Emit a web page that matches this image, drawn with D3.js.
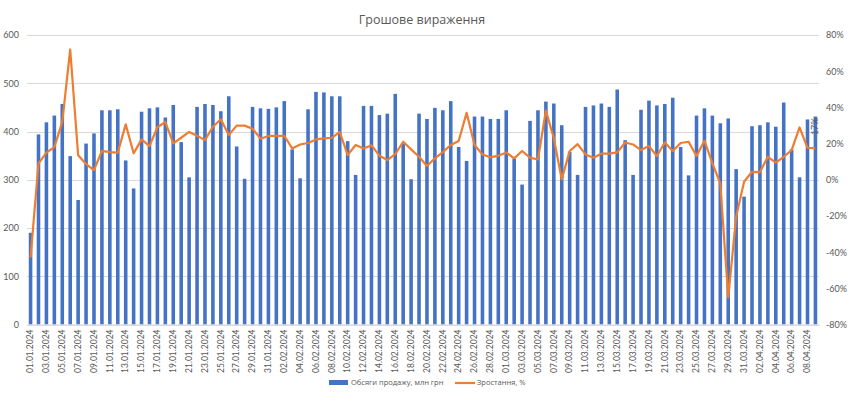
<!DOCTYPE html>
<meta charset="utf-8">
<style>
body { margin: 0; background: #fff; }
text { font-family: Lato, "Open Sans", sans-serif; fill: #595959; }
.cyr { font-family: "Open Sans", sans-serif; }
.grid line { stroke: #d9d9d9; }
</style>
<body>
<script src="https://cdn.jsdelivr.net/npm/d3@7"></script>
<script>

var width = 850,
    height = 397;

// dates 01.01.2024 .. 09.04.2024
var start = new Date(2024, 0, 1);
var dates = d3.range(100).map(function(i) { return d3.timeDay.offset(start, i); });
var fmt = d3.timeFormat("%d.%m.%Y");
var labels = dates.map(fmt);

var sales = [
  190, 394, 419, 433, 457, 349, 258, 375, 396, 444,
  444, 446, 340, 282, 441, 448, 450, 429, 455, 378,
  305, 451, 457, 455, 442, 473, 369, 302, 451, 448,
  447, 450, 463, 363, 303, 446, 482, 481, 473, 473,
  380, 310, 453, 453, 434, 437, 478, 375, 301, 437,
  426, 449, 444, 463, 368, 339, 431, 431, 426, 426,
  444, 344, 290, 422, 444, 462, 458, 413, 358, 310,
  451, 454, 458, 451, 487, 382, 310, 445, 464, 454,
  457, 470, 368, 309, 433, 448, 433, 417, 427, 322,
  265, 411, 413, 419, 410, 460, 363, 305, 425, 431
];

var growth = [
  -43, 9, 15, 18, 32, 72, 13.6, 8.7, 5.3, 16,
  15.3, 15, 30.6, 14.6, 22.3, 18.6, 29, 31.9, 20.1, 23.2,
  26.4, 24.3, 21.9, 29.3, 33.4, 24.7, 29.9, 29.9, 28.2, 22.7,
  24.2, 24.3, 24.3, 17.3, 19.5, 20.3, 22.3, 22.9, 23.2, 26.4,
  13.6, 19.2, 17.3, 19, 13.3, 10.9, 14.2, 21, 16.8, 12.7,
  7.6, 11.8, 15.3, 19.2, 21.4, 37, 19.2, 14, 12.4, 13.3,
  15.1, 11.8, 15.9, 12.2, 11.2, 38.2, 22.9, 0.2, 15.9, 19.7,
  14, 12.2, 14.4, 14.4, 15.1, 20.6, 19.5, 16.4, 18.6, 13.1,
  20.6, 15.9, 20.3, 21, 13.1, 21.6, 9, -2, -65, -20.5,
  -1.1, 4.4, 4.2, 12.7, 9.4, 12.7, 16.4, 28.9, 17.6, 17.4
];

var leftTicks = [0, 100, 200, 300, 400, 500, 600];
var rightTicks = [-80, -60, -40, -20, 0, 20, 40, 60, 80];

var margin = {top: 35, right: 31, bottom: 72.5, left: 27};

var x = d3.scaleBand()
    .domain(labels)
    .range([margin.left, width - margin.right])
    .paddingInner(0.55)
    .paddingOuter(0.225);

var y = d3.scaleLinear().domain([0, 600]).range([height - margin.bottom, margin.top]);
var y2 = d3.scaleLinear().domain([-80, 80]).range([height - margin.bottom, margin.top]);

var svg = d3.select("body").append("svg")
    .attr("width", width)
    .attr("height", height);

svg.append("text")
    .attr("class", "cyr")
    .attr("x", 422)
    .attr("y", 24)
    .attr("text-anchor", "middle")
    .style("font-size", "12.5px")
    .text("Грошове вираження");

// grid
svg.append("g")
    .attr("class", "grid")
  .selectAll("line")
    .data(leftTicks)
  .enter().append("line")
    .attr("x1", margin.left)
    .attr("x2", width - margin.right)
    .attr("y1", function(d) { return Math.round(y(d)) + 0.5; })
    .attr("y2", function(d) { return Math.round(y(d)) + 0.5; });

// left axis
var yAxis = svg.append("g")
    .attr("transform", "translate(" + margin.left + ",0)")
    .call(d3.axisLeft(y).tickValues(leftTicks).tickSize(0).tickPadding(8));
yAxis.select(".domain").remove();
yAxis.selectAll("text").style("font-size", "9px").attr("fill", "#595959");

// right axis
var y2Axis = svg.append("g")
    .attr("transform", "translate(" + (width - margin.right) + ",0)")
    .call(d3.axisRight(y2).tickValues(rightTicks).tickSize(0).tickPadding(7)
      .tickFormat(function(d) { return d + "%"; }));
y2Axis.select(".domain").remove();
y2Axis.selectAll("text").style("font-size", "9px").attr("fill", "#595959");

// bars
svg.append("g")
  .selectAll("rect")
    .data(sales)
  .enter().append("rect")
    .attr("x", function(d, i) { return x(labels[i]); })
    .attr("width", x.bandwidth())
    .attr("y", function(d) { return y(d); })
    .attr("height", function(d) { return y(0) - y(d); })
    .attr("fill", "#4472C4");

// bottom axis
var xAxis = svg.append("g")
    .attr("transform", "translate(0," + y(0) + ")")
    .call(d3.axisBottom(x)
      .tickValues(labels.filter(function(d, i) { return i % 2 === 0; }))
      .tickSize(0));
xAxis.select(".domain").attr("stroke", "#d9d9d9");
xAxis.selectAll("text")
    .style("font-size", "8.5px")
    .attr("fill", "#595959")
    .attr("transform", "rotate(-90)")
    .attr("text-anchor", "end")
    .attr("x", -5)
    .attr("y", 0)
    .attr("dy", "0.32em");

// line
var line = d3.line()
    .x(function(d, i) { return x(labels[i]) + x.bandwidth() / 2; })
    .y(function(d) { return y2(d); });

svg.append("path")
    .datum(growth)
    .attr("d", line)
    .attr("fill", "none")
    .attr("stroke", "#ED7D31")
    .attr("stroke-width", 2.2)
    .attr("stroke-linejoin", "round");

// last value label
var last = labels.length - 1;
svg.append("text")
    .attr("transform", "translate(" + (x(labels[last]) + x.bandwidth() / 2) + "," + (y2(growth[last]) - 22) + ") rotate(-90)")
    .attr("text-anchor", "middle")
    .attr("dy", "0.32em")
    .style("font-size", "9px")
    .attr("fill", "#404040")
    .text(d3.format(".0f")(growth[last]) + "%");

// legend
var legend = svg.append("g").attr("transform", "translate(0,383)");
legend.append("rect")
    .attr("x", 329).attr("y", -3)
    .attr("width", 19).attr("height", 5)
    .attr("fill", "#4472C4");
legend.append("text")
    .attr("class", "cyr")
    .attr("x", 351).attr("y", 0).attr("dy", "0.32em")
    .style("font-size", "7.5px")
    .text("Обсяги продажу, млн грн");
legend.append("line")
    .attr("x1", 455).attr("x2", 475)
    .attr("y1", 0).attr("y2", 0)
    .attr("stroke", "#ED7D31").attr("stroke-width", 2.2);
legend.append("text")
    .attr("class", "cyr")
    .attr("x", 477).attr("y", 0).attr("dy", "0.32em")
    .style("font-size", "7.5px")
    .text("Зростання, %");

</script>
